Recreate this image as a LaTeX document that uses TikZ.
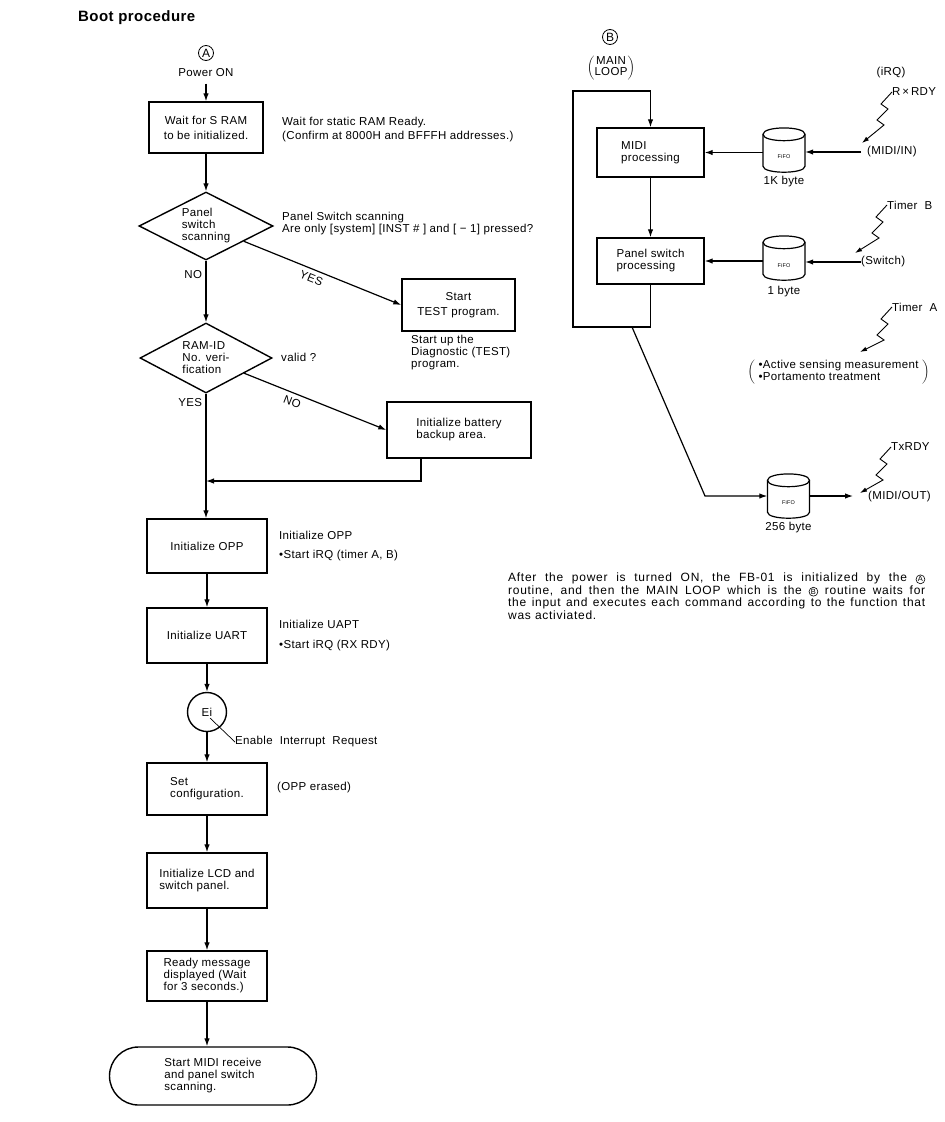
\documentclass[tikz,border=0pt]{standalone}
\usepackage{fontspec}
\setmainfont{Liberation Sans}[LetterSpace=3]
\usetikzlibrary{shapes.geometric,shapes.misc,arrows.meta}
\newcommand\circlet[2]{\tikz[baseline=(#1.base)]\node[draw,circle,line width=0.6pt,inner sep=0.6pt,font=\fontsize{7.5}{7.5}\selectfont](#1){#2};}
\newcommand\bolt[2]{\draw[boltarr] (#1) -- ++(-11,12) -- ++(7,5) -- ++(-11,11) -- ++(7,5) -- (#2);}
\newcommand\cylshape[1]{%
  \draw[ln] ([shift={(-21,6.5)}]#1.north) .. controls ([shift={(-21,-2)}]#1.north) and ([shift={(21,-2)}]#1.north) .. ([shift={(21,6.5)}]#1.north) .. controls ([shift={(21,15)}]#1.north) and ([shift={(-21,15)}]#1.north) .. cycle;
  \draw[ln] ([shift={(-21,6.5)}]#1.north) -- ([shift={(-21,-6)}]#1.south) .. controls ([shift={(-21,2)}]#1.south) and ([shift={(21,2)}]#1.south) .. ([shift={(21,-6)}]#1.south) -- ([shift={(21,6.5)}]#1.north);}
\begin{document}
\begin{tikzpicture}[x=1pt,y=-1pt,
  font=\fontsize{11.5}{12}\selectfont,
  box/.style={draw, line width=1.4pt, minimum width=120pt, inner sep=0pt, align=center},
  ln/.style={line width=1.2pt},
  arr/.style={ln, -{Latex[length=8pt,width=5.5pt]}},
  boltarr/.style={line width=0.9pt, -{Latex[length=7pt,width=4.5pt]}},
  dec/.style={diamond, draw, line width=1.4pt, inner sep=0pt, aspect=2, align=left},
  note/.style={anchor=west, align=left, inner sep=0pt},
  cylbox/.style={rectangle, minimum width=42pt, minimum height=44pt, inner sep=0pt},
  fifo/.style={font=\fontsize{5.5}{5.5}\selectfont, inner sep=0pt},
  letter/.style={circle, draw, line width=0.8pt, minimum size=15pt, inner sep=0pt, font=\fontsize{12}{12}\selectfont}]
\useasboundingbox (0,0) rectangle (945,1122);
\fill[white] (0,0) rectangle (945,1122);

% ---------- left column (A) ----------
\node[anchor=west, font=\fontsize{15}{17}\selectfont\bfseries, inner sep=0pt] (title) at (78,18) {Boot procedure};
\node[letter] (circA) at (206,53) {A};
\node (power) at (206,73) {Power ON};
\node[box, minimum width=114pt, minimum height=51pt] (sram) at (206,127.5) {Wait for S RAM\\[3pt]to be initialized.};
\node[note] (n1) at (282,129.5) {Wait for static RAM Ready.\\[2pt](Confirm at 8000H and BFFFH addresses.)};
\node[dec, minimum width=134pt, minimum height=68pt] (d1) at (206,226) {Panel\\switch\\scanning};
\node[note] (n2) at (282,224) {Panel Switch scanning\\Are only [system] [INST \# ] and [ − 1] pressed?};
\node[box, minimum width=113pt, minimum height=52pt] (test) at (458.5,305) {Start\\[3pt]TEST program.};
\node[note] (n3) at (411,352.5) {Start up the\\Diagnostic (TEST)\\program.};
\node[dec, minimum width=132pt, minimum height=70pt] (d2) at (206,358) {RAM-ID\\No. veri-\\fication};
\node[note] (valid) at (281,357) {valid ?};
\node[box, minimum width=144pt, minimum height=56pt, align=left] (batt) at (459,430) {Initialize battery\\backup area.};
\coordinate (join) at (206,481);
\coordinate (battout) at (421,458);
\node[box, minimum height=54pt] (opp) at (207,546) {Initialize OPP};
\node[note] (n4) at (279,546.5) {Initialize OPP\\[7pt]•Start iRQ (timer A, B)};
\node[box, minimum height=55pt] (uart) at (207,635.5) {Initialize UART};
\node[note] (n5) at (279,636) {Initialize UAPT\\[8pt]•Start iRQ (RX RDY)};
\node[circle, draw, line width=1.4pt, minimum size=39pt, inner sep=0pt] (ei) at (207,712) {Ei};
\coordinate (eil) at (210,718);
\node[note] (n6) at (235,742) {Enable\ \ Interrupt\ \ Request};
\node[box, minimum height=52pt, align=left] (cfg) at (207,789) {Set\\configuration.};
\node[note] (n7) at (277,788) {(OPP erased)};
\node[box, minimum height=55pt, align=left] (lcd) at (207,880.5) {Initialize LCD and\\switch panel.};
\node[box, minimum height=50pt, align=left] (ready) at (207,976) {Ready message\\displayed (Wait\\for 3 seconds.)};
\node[rounded rectangle, draw, line width=1.4pt, minimum width=207pt, minimum height=58pt, inner sep=0pt, align=left] (term) at (213,1076) {Start MIDI receive\\and panel switch\\scanning.};

\draw[arr] ([yshift=-3pt]power.south) -- (sram.north);
\draw[arr] (sram.south) -- (d1.north);
\draw[arr] (d1.south) -- node[left, pos=0.22] {NO} (d2.north);
\draw[arr] (d1) -- node[sloped, below=4pt, pos=0.45, inner sep=0pt] {YES} (test.west);
\draw[arr] (d2) -- node[sloped, below=4pt, pos=0.36, inner sep=0pt] {NO} (batt.west);
\draw[arr] (d2.south) -- node[left, pos=0.07] {YES} (d2.south |- opp.north);
\draw[arr] (battout) |- (join);
\draw[arr] (opp.south) -- (uart.north);
\draw[arr] (uart.south) -- (ei.north);
\draw[arr] (ei.south) -- (cfg.north);
\draw[line width=0.7pt] (eil) -- (n6.west);
\draw[arr] (cfg.south) -- (lcd.north);
\draw[arr] (lcd.south) -- (ready.north);
\draw[arr] (ready.south) -- (ready.south |- term.north);

% ---------- right column (B) ----------
\node[letter] (circB) at (610,37) {B};
\node[font=\fontsize{11.5}{11}\selectfont, inner sep=0pt] (mainloop) at (611,68) {$\left(\begin{tabular}{@{}c@{}}MAIN\\LOOP\end{tabular}\right)$};
\node[box, minimum width=107pt, minimum height=49pt, align=left] (midi) at (650.5,152.5) {MIDI\\processing};
\node[box, minimum width=107pt, minimum height=46pt, align=left] (panel) at (650.5,261) {Panel switch\\processing};
\coordinate (lbr) at (650.5,327);
\coordinate (lbl) at (573,327);
\coordinate (ltl) at (573,91);
\coordinate (ltr) at (650.5,91);
\coordinate (outs) at (632,327);
\coordinate (outb) at (705,496);
\draw[arr] (panel.south) -- (lbr) -- (lbl) -- (ltl) -- (ltr) -- (midi.north);
\draw[arr] (midi.south) -- (panel.north);

\node[cylbox] (f1) at (784,150) {};
\cylshape{f1}
\node[fifo] (f1l) at (784,157) {FiFO};
\node (f1b) at (784,182) {1K byte};
\node[cylbox] (f2) at (784,258) {};
\cylshape{f2}
\node[fifo] (f2l) at (784,266) {FiFO};
\node (f2b) at (784,292) {1 byte};
\node[cylbox] (f3) at (788.5,496) {};
\cylshape{f3}
\node[fifo] (f3l) at (788.5,503) {FiFO};
\node (f3b) at (788.5,528) {256 byte};

\draw[arr] (f1.west |- midi.east) -- (midi.east);
\draw[arr] (f2.west |- panel.east) -- (panel.east);

\node (irq) at (891,73) {(iRQ)};
\node[note] (rxrdy) at (892,92) {R\,×\,RDY};
\coordinate (rxt) at (862,143);
\bolt{rxrdy.west}{rxt}
\node[note] (midiin) at (867,152) {(MIDI/IN)};
\draw[arr] ([xshift=-6pt]midiin.west) -- (f1.east |- midiin.west);

\node[note] (tb) at (887,205) {Timer\ \ B};
\coordinate (tbt) at (855,253);
\bolt{tb.west}{tbt}
\node[note] (sw) at (861,262) {(Switch)};
\draw[arr] (sw.west) -- (f2.east |- sw.west);

\node[note] (ta) at (892,307) {Timer\ \ A};
\coordinate (tat) at (860,352);
\bolt{ta.west}{tat}
\node[inner sep=0pt] (act) at (838.5,372) {$\left(\ \begin{tabular}{@{}l@{}}•Active sensing measurement\\•Portamento treatment\end{tabular}\ \right)$};

\draw[arr] (outs) -- (outb) -- (f3.west);
\node[note] (txrdy) at (891,447) {TxRDY};
\coordinate (txt) at (860,493);
\bolt{txrdy.west}{txt}
\coordinate (moutt) at (853,496);
\draw[arr] (f3.east) -- (moutt);
\node[note] (mout) at (868,497) {(MIDI/OUT)};

% ---------- paragraph ----------
\node[anchor=north west, text width=417pt, align=justify, inner sep=0pt,
      font=\fontsize{12}{12.4}\selectfont\addfontfeature{LetterSpace=6}] (para) at (508,573)
{After the power is turned ON, the FB-01 is initialized by the \circlet{pa}{A}\linebreak
routine, and then the MAIN LOOP which is the \circlet{pb}{B} routine waits for\linebreak
the input and executes each command according to the function that\linebreak
was activiated.};
\end{tikzpicture}
\end{document}
